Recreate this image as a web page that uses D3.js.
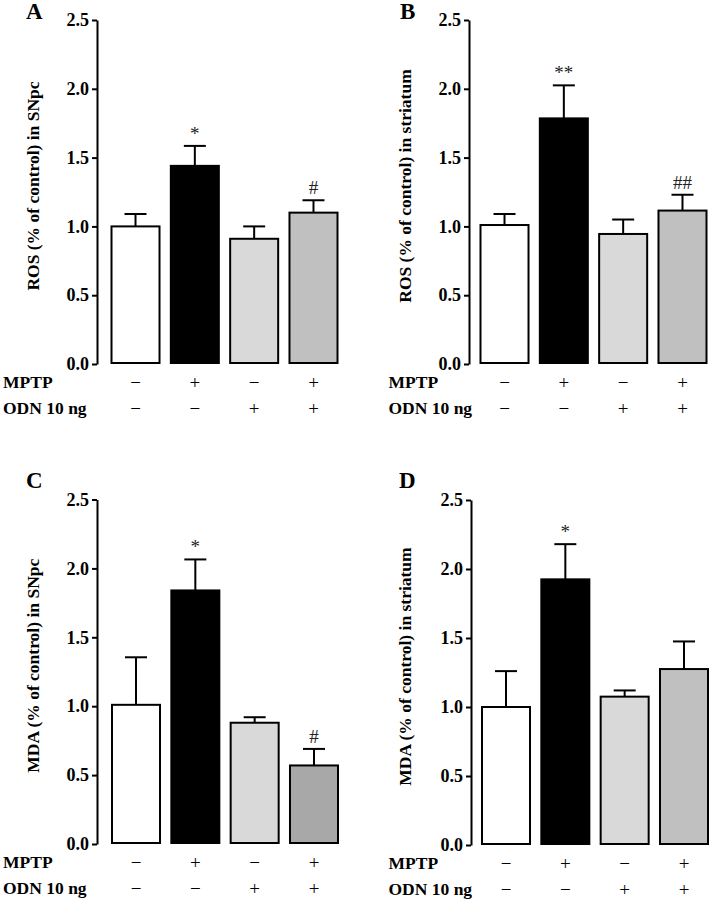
<!DOCTYPE html>
<html>
<head>
<meta charset="utf-8">
<script src="https://cdn.jsdelivr.net/npm/d3@7"></script>
<style>
  html, body { margin: 0; padding: 0; background: #fff; }
  svg text { font-family: "Liberation Serif", "Times New Roman", serif; }
</style>
</head>
<body>
<svg id="chart" width="711" height="899"></svg>
<script>
// ---------- data ----------
const groups = ["g1", "g2", "g3", "g4"];
const mptpSigns = ["\u2212", "+", "\u2212", "+"];
const odnSigns = ["\u2212", "\u2212", "+", "+"];
const rowLabels = ["MPTP", "ODN 10 ng"];
const yTicks = [0, 0.5, 1.0, 1.5, 2.0, 2.5];

const panelLetters = ["A", "B", "C", "D"];
const yLabels = [
  "ROS (% of control) in SNpc",
  "ROS (% of control) in striatum",
  "MDA (% of control) in SNpc",
  "MDA (% of control) in striatum"
];
const rosSNpc = [1.00, 1.44, 0.91, 1.10];
const rosSNpcErr = [0.09, 0.145, 0.09, 0.09];
const rosStriatum = [1.01, 1.785, 0.945, 1.115];
const rosStriatumErr = [0.08, 0.24, 0.105, 0.115];
const mdaSNpc = [1.01, 1.84, 0.88, 0.57];
const mdaSNpcErr = [0.345, 0.225, 0.04, 0.12];
const mdaStriatum = [1.00, 1.925, 1.075, 1.275];
const mdaStriatumErr = [0.26, 0.255, 0.045, 0.20];
const marksA = ["", "*", "", "#"];
const marksB = ["", "**", "", "##"];
const marksC = ["", "*", "", "#"];
const marksD = ["", "*", "", ""];

const colorsRow1 = ["#ffffff", "#000000", "#d9d9d9", "#c0c0c0"];
const colorsC = ["#ffffff", "#000000", "#d9d9d9", "#a8a8a8"];
const colorsD = ["#ffffff", "#000000", "#d9d9d9", "#c0c0c0"];

// ---------- layout ----------
const panels = [
  { letter: panelLetters[0], label: yLabels[0], values: rosSNpc, errs: rosSNpcErr, marks: marksA, colors: colorsRow1,
    axisX: 97, yTop: 20, yBot: 364, barOff: 13.5, labelX: 33, rowX: 3, letterX: 26, letterY: 19 },
  { letter: panelLetters[1], label: yLabels[1], values: rosStriatum, errs: rosStriatumErr, marks: marksB, colors: colorsRow1,
    axisX: 469, yTop: 20, yBot: 364, barOff: 10.5, labelX: 405, rowX: 388.5, letterX: 400, letterY: 19 },
  { letter: panelLetters[2], label: yLabels[2], values: mdaSNpc, errs: mdaSNpcErr, marks: marksC, colors: colorsC,
    axisX: 97, yTop: 499.5, yBot: 844, barOff: 14, labelX: 33, rowX: 3, letterX: 26, letterY: 488 },
  { letter: panelLetters[3], label: yLabels[3], values: mdaStriatum, errs: mdaStriatumErr, marks: marksD, colors: colorsD,
    axisX: 471, yTop: 500, yBot: 845, barOff: 10, labelX: 405, rowX: 388.5, letterX: 399, letterY: 488 }
];

const svg = d3.select("#chart");

panels.forEach(p => {
  const g = svg.append("g");
  const y = d3.scaleLinear().domain([0, 2.5]).range([p.yBot, p.yTop]);
  const x = d3.scaleBand().domain(groups)
    .range([p.axisX + p.barOff, p.axisX + p.barOff + 228])
    .paddingInner(0.157).paddingOuter(0);

  // y axis
  const axis = d3.axisLeft(y).tickValues(yTicks).tickFormat(d3.format(".1f"))
    .tickSize(5).tickSizeOuter(0).tickPadding(3);
  const ax = g.append("g").attr("transform", `translate(${p.axisX},0)`).call(axis);
  ax.select(".domain").attr("stroke", "#000").attr("stroke-width", 2);
  ax.selectAll(".tick line").attr("stroke", "#000").attr("stroke-width", 2);
  ax.selectAll(".tick text").attr("fill", "#000")
    .style("font-family", "'Liberation Serif', serif")
    .style("font-weight", "bold").style("font-size", "18px");

  // error bars (upward)
  const eg = g.append("g");
  groups.forEach((k, i) => {
    const cx = x(k) + x.bandwidth() / 2;
    const top = y(p.values[i] + p.errs[i]);
    eg.append("line").attr("x1", cx).attr("x2", cx)
      .attr("y1", y(p.values[i])).attr("y2", top)
      .attr("stroke", "#000").attr("stroke-width", 2);
    eg.append("line").attr("x1", cx - 11).attr("x2", cx + 11)
      .attr("y1", top).attr("y2", top)
      .attr("stroke", "#000").attr("stroke-width", 2);
  });

  // bars
  g.append("g").selectAll("rect").data(groups).join("rect")
    .attr("x", d => x(d) + 1)
    .attr("width", x.bandwidth() - 2)
    .attr("y", (d, i) => y(p.values[i]))
    .attr("height", (d, i) => y(0) - y(p.values[i]) - 1)
    .attr("fill", (d, i) => p.colors[i])
    .attr("stroke", "#000").attr("stroke-width", 2);

  // significance marks
  g.append("g").selectAll("text").data(groups).join("text")
    .attr("x", d => x(d) + x.bandwidth() / 2)
    .attr("y", (d, i) => y(p.values[i] + p.errs[i]) - 6)
    .attr("text-anchor", "middle")
    .style("font-size", "19px").attr("fill", "#222")
    .text((d, i) => p.marks[i]);

  // y label
  g.append("text")
    .attr("transform", `translate(${p.labelX},${(p.yTop + p.yBot) / 2 - 6}) rotate(-90)`)
    .attr("text-anchor", "middle").attr("dominant-baseline", "central")
    .style("font-weight", "bold").style("font-size", "17.5px")
    .text(p.label);

  // panel letter
  g.append("text").attr("x", p.letterX).attr("y", p.letterY)
    .style("font-weight", "bold").style("font-size", "23px").text(p.letter);

  // treatment rows
  const rows = [mptpSigns, odnSigns];
  const rowY = [p.yBot + 18, p.yBot + 44];
  rows.forEach((signs, r) => {
    g.append("text").attr("x", p.rowX).attr("y", rowY[r])
      .attr("dominant-baseline", "central")
      .style("font-weight", "bold").style("font-size", "17.5px")
      .text(rowLabels[r]);
    g.append("g").selectAll("text").data(groups).join("text")
      .attr("x", d => x(d) + x.bandwidth() / 2)
      .attr("y", rowY[r])
      .attr("text-anchor", "middle").attr("dominant-baseline", "central")
      .style("font-size", "19px")
      .text((d, i) => signs[i]);
  });
});
</script>
</body>
</html>
